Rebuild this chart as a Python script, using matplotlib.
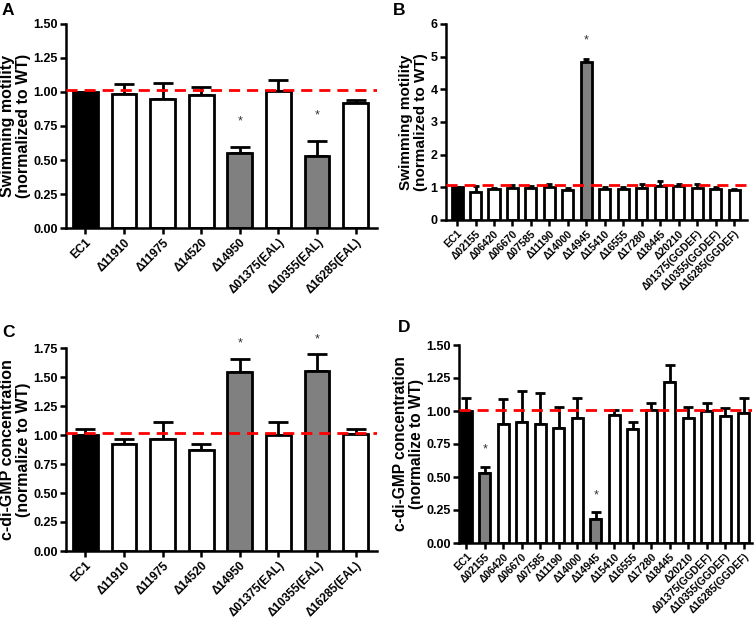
import matplotlib
matplotlib.use("Agg")
import matplotlib.pyplot as plt
import numpy as np

plt.rcParams['font.family'] = ['Liberation Sans', 'DejaVu Sans']
plt.rcParams['font.weight'] = 'bold'

# ---- Data ----
cats_ac = ["EC1", "Δ11910", "Δ11975", "Δ14520", "Δ14950", "Δ01375(EAL)", "Δ10355(EAL)", "Δ16285(EAL)"]
cats_bd = ["EC1", "Δ02155", "Δ06420", "Δ06670", "Δ07585", "Δ11190", "Δ14000", "Δ14945", "Δ15410",
           "Δ16555", "Δ17280", "Δ18445", "Δ20210", "Δ01375(GGDEF)", "Δ10355(GGDEF)", "Δ16285(GGDEF)"]

a_vals = [1.00, 0.985, 0.945, 0.975, 0.550, 1.005, 0.533, 0.922]
a_err = [0.00, 0.075, 0.122, 0.060, 0.045, 0.085, 0.105, 0.018]
a_sig = [4, 6]

b_vals = [1.00, 0.85, 0.94, 0.97, 0.97, 1.00, 0.91, 4.83, 0.95, 0.96, 0.98, 1.04, 1.05, 0.99, 0.94, 0.92]
b_err = [0.00, 0.20, 0.05, 0.09, 0.07, 0.10, 0.08, 0.11, 0.07, 0.04, 0.12, 0.15, 0.06, 0.10, 0.07, 0.03]
b_sig = [7]

c_vals = [0.997, 0.922, 0.968, 0.871, 1.546, 0.997, 1.552, 1.006]
c_err = [0.058, 0.046, 0.141, 0.049, 0.112, 0.118, 0.143, 0.046]
c_sig = [4, 6]

d_vals = [1.00, 0.534, 0.898, 0.916, 0.90, 0.868, 0.944, 0.182, 0.966, 0.865, 1.007, 1.219, 0.946, 1.00, 0.961, 0.984]
d_err = [0.10, 0.045, 0.19, 0.232, 0.238, 0.159, 0.154, 0.051, 0.041, 0.051, 0.053, 0.132, 0.084, 0.057, 0.061, 0.111]
d_sig = [1, 7]

ref_lines = [1.013, 1.06, 1.015, 1.008]

W, H = 755, 621
fig = plt.figure(figsize=(W / 100, H / 100), dpi=100)


def px_axes(l, r, t, b):
    return fig.add_axes([l / W, 1 - b / H, (r - l) / W, (b - t) / H]), (l, r)


def panel(axinfo, cats, vals, err, sig, ylim, yticks, yfmt, ylabel, refy, xlim,
          width, capsize, xfs, star_off, ylfs, label_right_px):
    ax, (l, r) = axinfo
    x = np.arange(len(cats))
    colors = []
    for i in range(len(cats)):
        if i == 0:
            colors.append('black')
        elif i in sig:
            colors.append('#808080')
        else:
            colors.append('white')
    ax.errorbar(x, vals, yerr=[np.zeros(len(vals)), err], fmt='none', ecolor='black',
                elinewidth=2, capsize=capsize, capthick=2, zorder=1)
    ax.bar(x, vals, width=width, color=colors, edgecolor='black', linewidth=2, zorder=2)
    ax.axhline(refy, color='#ff0000', linestyle=(0, (4, 2.5)), linewidth=2, zorder=3)
    for i in sig:
        ax.text(x[i], vals[i] + err[i] + star_off, '*', ha='center', va='center',
                fontsize=9, color='#333333', fontweight='normal', clip_on=False)
    ax.set_xlim(*xlim)
    ax.set_ylim(*ylim)
    ax.set_yticks(yticks)
    ax.set_yticklabels([yfmt.format(v) for v in yticks], fontsize=9, fontweight='bold')
    ax.set_xticks(x)
    ax.set_xticklabels(cats, rotation=45, ha='right', rotation_mode='anchor',
                       fontsize=xfs, fontweight='bold')
    ax.set_ylabel(ylabel, fontsize=ylfs, fontweight='bold', linespacing=1.05)
    ax.yaxis.set_label_coords((label_right_px - l) / (r - l), 0.5)
    for s in ['top', 'right']:
        ax.spines[s].set_visible(False)
    for s in ['left', 'bottom']:
        ax.spines[s].set_linewidth(1.8)
    ax.tick_params(axis='both', width=1.8, length=4, direction='out', pad=2)


axA = px_axes(66, 377, 24, 228)
panel(axA, cats_ac, a_vals, a_err, a_sig, (0, 1.5), [0, 0.25, 0.5, 0.75, 1.0, 1.25, 1.5], "{:.2f}",
      "Swimming motility\n(normalized to WT)", ref_lines[0], (-0.5, 7.55), 0.64, 7, 8.5, 0.19, 11.5, 31)

axB = px_axes(446, 747, 24, 220)
panel(axB, cats_bd, b_vals, b_err, b_sig, (0, 6), [0, 1, 2, 3, 4, 5, 6], "{:.0f}",
      "Swimming motility\n(normalized to WT)", ref_lines[1], (-0.6, 15.7), 0.6, 2.5, 7.5, 0.55, 11, 428)

axC = px_axes(66, 377, 348, 551)
panel(axC, cats_ac, c_vals, c_err, c_sig, (0, 1.75), [0, 0.25, 0.5, 0.75, 1.0, 1.25, 1.5, 1.75], "{:.2f}",
      "c-di-GMP concentration\n(normalize to WT)", ref_lines[2], (-0.5, 7.55), 0.64, 7, 8.5, 0.13, 11.5, 31)

axD = px_axes(459, 752, 345, 543)
panel(axD, cats_bd, d_vals, d_err, d_sig, (0, 1.5), [0, 0.25, 0.5, 0.75, 1.0, 1.25, 1.5], "{:.2f}",
      "c-di-GMP concentration\n(normalize to WT)", ref_lines[3], (-0.4, 15.45), 0.6, 3.5, 7.5, 0.13, 11.2, 424)

for lab, (xp, yp) in zip("ABCD", [(2, 3), (393, 3), (2, 325), (398, 320)]):
    fig.text(xp / W, 1 - yp / H, lab, fontsize=12.5, fontweight='bold', ha='left', va='top')

fig.savefig("out.png", dpi=100)
